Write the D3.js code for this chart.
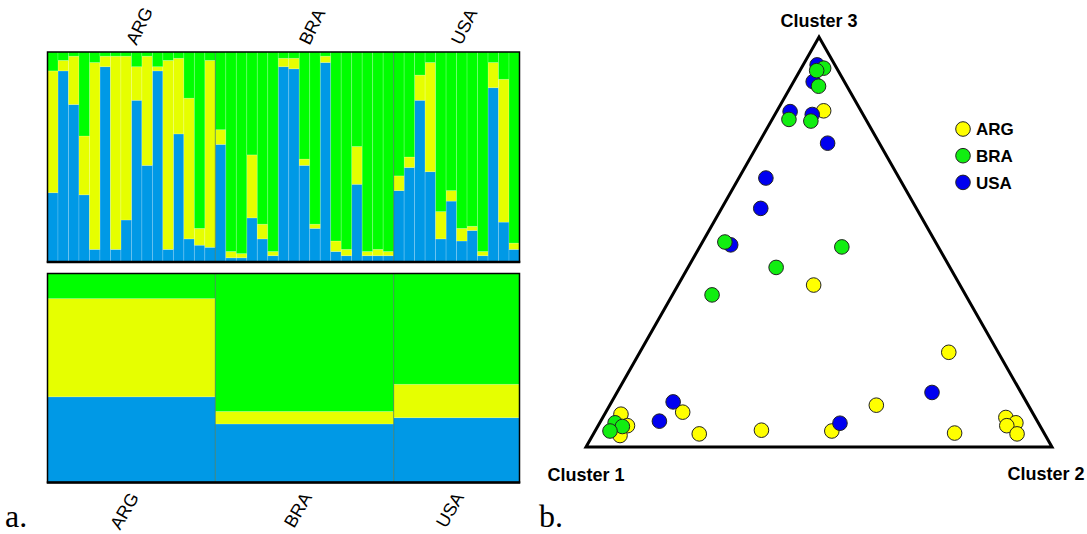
<!DOCTYPE html>
<html lang="en">
<head>
    <meta charset="utf-8">
    <title>Structure barplots and ternary plot</title>
    <script src="https://d3js.org/d3.v7.min.js"></script>
    <style>
        body{
            margin: 0;
            background: #fff;
        }
        text.pop{
            font-family: "Liberation Sans", Arial, sans-serif;
            font-size: 18px;
            fill: #000;
        }
        text.panel{
            font-family: "Liberation Serif", "Times New Roman", serif;
            font-size: 32px;
            fill: #000;
        }
        text.cluster{
            font-family: "Liberation Sans", Arial, sans-serif;
            font-weight: bold;
            font-size: 18px;
            fill: #000;
        }
        text.legend{
            font-family: "Liberation Sans", Arial, sans-serif;
            font-weight: bold;
            font-size: 17px;
            fill: #000;
        }
    </style>
</head>
<body>
    <div id="my_dataviz"></div>
    <script>

    // population names and cluster names
    var popNames = ["ARG", "BRA", "USA"]
    var clusterNames = ["Cluster 1", "Cluster 2", "Cluster 3"]

    // individual memberships: [blue, yellow, green]
    var argInd = [[0.33,0.58,0.09],[0.91,0.05,0.04],[0.75,0.23,0.02],[0.32,0.28,0.40],[0.06,0.89,0.05],
                  [0.93,0.05,0.02],[0.06,0.92,0.02],[0.20,0.78,0.02],[0.77,0.16,0.07],[0.46,0.52,0.02],
                  [0.91,0.02,0.07],[0.06,0.90,0.04],[0.61,0.36,0.03],[0.11,0.67,0.22],[0.08,0.08,0.84],
                  [0.07,0.89,0.04]]
    var braInd = [[0.56,0.07,0.37],[0.02,0.03,0.95],[0.02,0.02,0.96],[0.21,0.30,0.49],[0.11,0.07,0.82],
                  [0.03,0.02,0.95],[0.93,0.04,0.03],[0.92,0.05,0.03],[0.46,0.03,0.51],[0.16,0.02,0.82],
                  [0.95,0.03,0.02],[0.05,0.05,0.90],[0.03,0.03,0.94],[0.37,0.18,0.45],[0.03,0.02,0.95],
                  [0.03,0.03,0.94],[0.03,0.02,0.95]]
    var usaInd = [[0.34,0.07,0.59],[0.45,0.05,0.50],[0.77,0.12,0.11],[0.43,0.52,0.05],[0.11,0.13,0.76],
                  [0.29,0.05,0.66],[0.10,0.06,0.84],[0.15,0.02,0.83],[0.03,0.02,0.95],[0.83,0.12,0.05],
                  [0.19,0.68,0.13],[0.06,0.03,0.91]]

    // population averages: [blue, yellow, green]
    var popMeans = [[0.41,0.47,0.12],[0.28,0.06,0.66],[0.31,0.16,0.53]]

    // ternary coordinates: [cluster 1, cluster 2, cluster 3]
    var argTri = [[0.080,0.100,0.820],[0.314,0.291,0.395],[0.885,0.035,0.080],[0.885,0.063,0.052],
                  [0.913,0.059,0.028],[0.750,0.165,0.085],[0.741,0.227,0.032],[0.603,0.356,0.041],
                  [0.453,0.508,0.039],[0.326,0.572,0.102],[0.106,0.663,0.231],[0.192,0.774,0.034],
                  [0.063,0.865,0.072],[0.048,0.893,0.059],[0.071,0.877,0.052],[0.059,0.909,0.032]]
    var usaTri = [[0.038,0.030,0.932],[0.067,0.042,0.891],[0.153,0.029,0.818],[0.109,0.080,0.811],
                  [0.111,0.148,0.741],[0.286,0.058,0.656],[0.334,0.084,0.582],[0.443,0.064,0.493],
                  [0.811,0.126,0.063],[0.758,0.132,0.110],[0.426,0.516,0.058],[0.191,0.676,0.133]]
    var braTri = [[0.028,0.048,0.924],[0.046,0.036,0.918],[0.061,0.059,0.880],[0.165,0.036,0.799],
                  [0.120,0.085,0.795],[0.452,0.048,0.500],[0.207,0.305,0.488],[0.373,0.189,0.438],
                  [0.544,0.085,0.371],[0.908,0.033,0.059],[0.897,0.053,0.050],[0.929,0.032,0.039]]

    var barColors = ["#0099e6", "#e6ff00", "#00ff00"]
    var popColors = {ARG: "#ffff00", BRA: "#11ee11", USA: "#0000f0"}

    var width = 1087
    var height = 534

    var svg = d3.select("#my_dataviz")
      .append("svg")
        .attr("width", width)
        .attr("height", height)

    // ---------- a. individual barplot ----------
    var groups = [argInd, braInd, usaInd]
    var individuals = []
    groups.forEach(function(g, gi){
        g.forEach(function(q, i){
            individuals.push({id: popNames[gi] + i, pop: popNames[gi], k0: q[0], k1: q[1], k2: q[2]})
        })
    })

    var left = 47.5, right = 519.5
    var x = d3.scaleBand()
        .domain(individuals.map(d => d.id))
        .range([left, right])
        .padding(0)

    var yTop = d3.scaleLinear().domain([0, 1]).range([262, 52])
    var yBot = d3.scaleLinear().domain([0, 1]).range([482.5, 273.5])

    var stack = d3.stack().keys(["k0", "k1", "k2"])
    var series = stack(individuals)

    var topG = svg.append("g")
    topG.selectAll("g.layer")
      .data(series)
      .enter()
      .append("g")
        .attr("fill", (d, i) => barColors[i])
      .selectAll("rect")
      .data(d => d)
      .enter()
      .append("rect")
        .attr("x", d => x(d.data.id))
        .attr("width", x.bandwidth())
        .attr("y", d => yTop(d[1]))
        .attr("height", d => yTop(d[0]) - yTop(d[1]))
        .attr("stroke", "#ffffff")
        .attr("stroke-opacity", 0.22)
        .attr("stroke-width", 0.8)

    // population boundaries (cumulative counts)
    var counts = groups.map(g => g.length)
    var cum = [0]
    counts.forEach(c => cum.push(cum[cum.length - 1] + c))
    var xPop = d3.scaleLinear().domain([0, individuals.length]).range([left, right])

    // ---------- a. population barplot ----------
    var popData = popNames.map(function(p, i){
        return {pop: p, start: cum[i], end: cum[i + 1], k0: popMeans[i][0], k1: popMeans[i][1], k2: popMeans[i][2]}
    })
    var popSeries = stack(popData)

    var botG = svg.append("g")
    botG.selectAll("g.layer")
      .data(popSeries)
      .enter()
      .append("g")
        .attr("fill", (d, i) => barColors[i])
      .selectAll("rect")
      .data(d => d)
      .enter()
      .append("rect")
        .attr("x", d => xPop(d.data.start))
        .attr("width", d => xPop(d.data.end) - xPop(d.data.start))
        .attr("y", d => yBot(d[1]))
        .attr("height", d => yBot(d[0]) - yBot(d[1]))
        .attr("stroke", "#ffffff")
        .attr("stroke-opacity", 0.2)
        .attr("stroke-width", 0.8)

    // darker lines between populations
    ;[yTop, yBot].forEach(function(ys){
        svg.append("g")
          .selectAll("line")
          .data(cum.slice(1, -1))
          .enter()
          .append("line")
            .attr("x1", d => xPop(d)).attr("x2", d => xPop(d))
            .attr("y1", ys(1)).attr("y2", ys(0))
            .attr("stroke", "#1d5a3a")
            .attr("stroke-opacity", 0.6)
            .attr("stroke-width", 1)

        // frame
        svg.append("rect")
            .attr("x", left).attr("y", ys(1))
            .attr("width", right - left).attr("height", ys(0) - ys(1))
            .attr("fill", "none")
            .attr("stroke", "#000")
            .attr("stroke-width", 1.5)
        svg.append("line")
            .attr("x1", left - 0.75).attr("x2", right + 0.75)
            .attr("y1", ys(0)).attr("y2", ys(0))
            .attr("stroke", "#000")
            .attr("stroke-width", 2.5)
    })

    // population labels, top and bottom
    svg.append("g")
      .selectAll("text")
      .data(popData)
      .enter()
      .append("text")
        .attr("class", "pop")
        .attr("transform", d => "translate(" + ((xPop(d.start) + xPop(d.end)) / 2 + 5) + ",46) rotate(-64)")
        .text(d => d.pop)

    svg.append("g")
      .selectAll("text")
      .data(popData)
      .enter()
      .append("text")
        .attr("class", "pop")
        .attr("text-anchor", "end")
        .attr("transform", d => "translate(" + ((xPop(d.start) + xPop(d.end)) / 2 + 8) + ",497) rotate(-60)")
        .text(d => d.pop)

    // ---------- b. ternary plot ----------
    var tx = d3.scaleLinear().domain([0, 1]).range([586, 1052])
    var ty = d3.scaleLinear().domain([0, 1]).range([447, 37])

    function project(q){
        var s = q[0] + q[1] + q[2]
        return [tx((q[1] + q[2] * 0.5) / s), ty(q[2] / s)]
    }

    var corners = [[1, 0, 0], [0, 1, 0], [0, 0, 1]].map(project)

    svg.append("path")
        .attr("d", d3.line()(corners) + "Z")
        .attr("fill", "none")
        .attr("stroke", "#000")
        .attr("stroke-width", 3)
        .attr("stroke-linejoin", "miter")

    var points = []
    argTri.forEach(q => points.push({pop: "ARG", q: q}))
    usaTri.forEach(q => points.push({pop: "USA", q: q}))
    braTri.forEach(q => points.push({pop: "BRA", q: q}))

    svg.append("g")
      .selectAll("circle")
      .data(points)
      .enter()
      .append("circle")
        .attr("cx", d => project(d.q)[0])
        .attr("cy", d => project(d.q)[1])
        .attr("r", 7.3)
        .attr("fill", d => popColors[d.pop])
        .attr("stroke", "#222")
        .attr("stroke-width", 1)

    // corner labels
    var labelPos = [[corners[0][0], 481], [corners[1][0] - 6, 480], [corners[2][0], 27]]
    svg.append("g")
      .selectAll("text")
      .data(clusterNames)
      .enter()
      .append("text")
        .attr("class", "cluster")
        .attr("text-anchor", "middle")
        .attr("x", (d, i) => labelPos[i][0])
        .attr("y", (d, i) => labelPos[i][1])
        .text(d => d)

    // legend
    var legend = svg.append("g")
        .attr("transform", "translate(963,129)")
    var item = legend.selectAll("g")
      .data(popNames)
      .enter()
      .append("g")
        .attr("transform", (d, i) => "translate(0," + (i * 26.7) + ")")
    item.append("circle")
        .attr("r", 7.3)
        .attr("fill", d => popColors[d])
        .attr("stroke", "#222")
        .attr("stroke-width", 1)
    item.append("text")
        .attr("class", "legend")
        .attr("x", 13)
        .attr("dy", "0.36em")
        .text(d => d)

    // panel letters
    svg.append("text").attr("class", "panel").attr("x", 5).attr("y", 527).text("a.")
    svg.append("text").attr("class", "panel").attr("x", 539).attr("y", 527).text("b.")

    </script>
</body>
</html>
